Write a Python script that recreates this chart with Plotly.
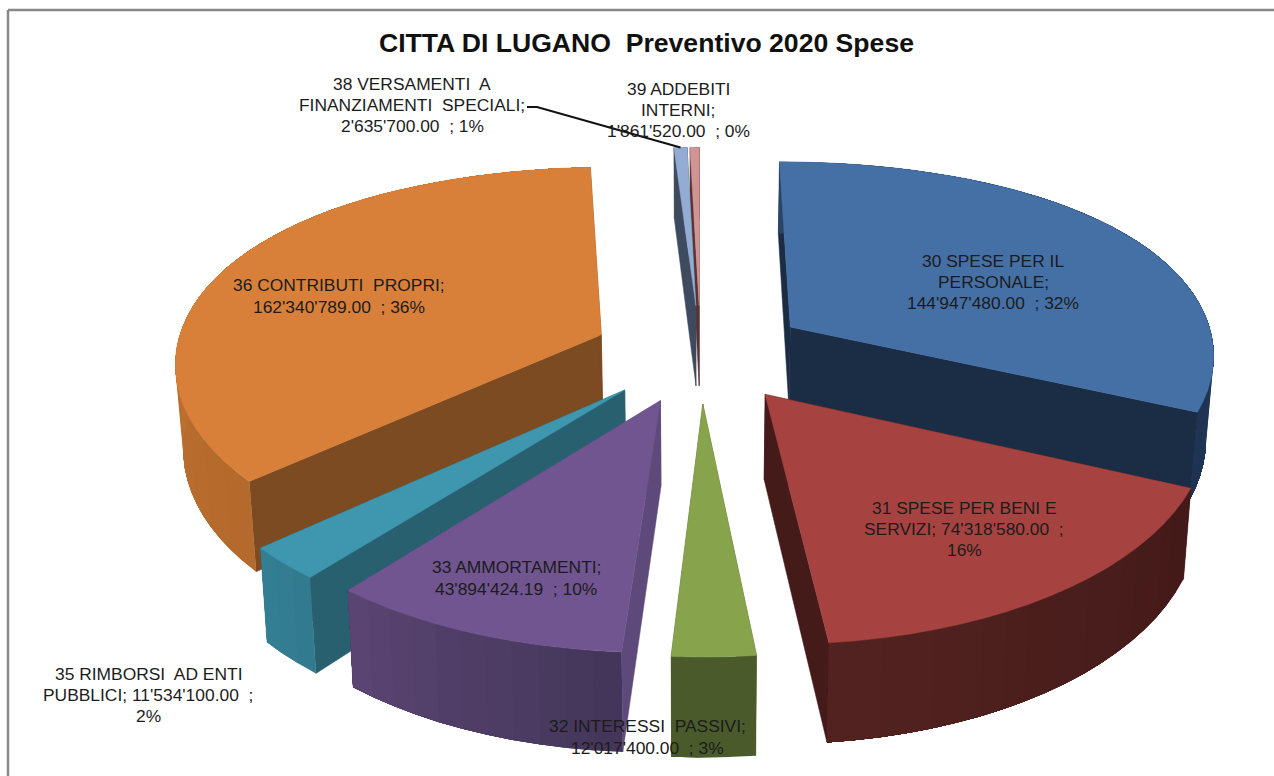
import math
import plotly.graph_objects as go

categories = ["30 SPESE PER IL PERSONALE", "31 SPESE PER BENI E SERVIZI", "32 INTERESSI  PASSIVI",
              "33 AMMORTAMENTI", "35 RIMBORSI  AD ENTI PUBBLICI", "36 CONTRIBUTI  PROPRI",
              "38 VERSAMENTI  A FINANZIAMENTI  SPECIALI", "39 ADDEBITI INTERNI"]
values = [144947480.00, 74318580.00, 12017400.00, 43894424.19, 11534100.00, 162340789.00, 2635700.00, 1861520.00]
label_texts = [
    "30 SPESE PER IL<br>PERSONALE;<br>144'947'480.00  ; 32%",
    "31 SPESE PER BENI E<br>SERVIZI; 74'318'580.00  ;<br>16%",
    "32 INTERESSI  PASSIVI;<br>12'017'400.00  ; 3%",
    "33 AMMORTAMENTI;<br>43'894'424.19  ; 10%",
    "35 RIMBORSI  AD ENTI<br>PUBBLICI; 11'534'100.00  ;<br>2%",
    "36 CONTRIBUTI  PROPRI;<br>162'340'789.00  ; 36%",
    "38 VERSAMENTI  A<br>FINANZIAMENTI  SPECIALI;<br>2'635'700.00  ; 1%",
    "39 ADDEBITI<br>INTERNI;<br>1'861'520.00  ; 0%",
]
title_text = "CITTA DI LUGANO  Preventivo 2020 Spese"

# styles
top_colors = ["#4570A6", "#A64340", "#87A44C", "#705590", "#3F96AF", "#D8803A", "#94ACD4", "#D09492"]
cut_colors = ["#1B2D45", "#451B19", "#4A5A2A", "#5E4A7A", "#286070", "#7C4B22", "#3E4A60", "#5A3230"]
rim_a = ["#2A4466", "#431A18", "#4A5A2A", "#44365A", "#327A8E", "#B46A2C", "#3E4A60", "#5A3230"]
rim_b = ["#1F3452", "#522220", "#4A5A2A", "#5A4472", "#347E94", "#CE7A36", "#3E4A60", "#5A3230"]
label_pos = [(993, 282), (964, 529), (647, 737), (516, 578), (148, 695), (339, 296), (412, 105), (678, 110)]

CX, CY, R, BY, CURVE, KP, EXPL_X, EXPL_Y, DEPTH, SHRINK, LIFT = (
    700.5, 353.0, 425.0, 205.5, 32.0, 0.14, 0.255, 0.24, 83.0, 0.985, 5.0)
LINE_H = 21.3


def project(X, Y, z=0.0, lift=0.0):
    s = 1.0 / (1.0 + KP * Y)
    x = CX + R * X * s
    y = CY - (BY * Y - CURVE * Y * Y) - lift + z * DEPTH * s
    if z:
        x = CX + (x - CX) * SHRINK
    return x, y


def rim(p, z=0.0):
    return project(p[0], p[1], z, LIFT * math.sin(p[2]) ** 2)


def lerp_hex(a, b, t):
    ca = [int(a[i:i + 2], 16) for i in (1, 3, 5)]
    cb = [int(b[i:i + 2], 16) for i in (1, 3, 5)]
    return "#%02x%02x%02x" % tuple(round(p + (q - p) * t) for p, q in zip(ca, cb))


def poly(pts, color, lw=0.5):
    xs = [p[0] for p in pts] + [pts[0][0]]
    ys = [p[1] for p in pts] + [pts[0][1]]
    return go.Scatter(x=xs, y=ys, mode="lines", fill="toself", fillcolor=color,
                      line=dict(color=color, width=lw), hoverinfo="skip", showlegend=False)


total = sum(values)
wedges = []
acc = 0.0
for i, v in enumerate(values):
    a0 = acc / total * 2 * math.pi
    acc += v
    a1 = acc / total * 2 * math.pi
    wedges.append((i, a0, a1, (a0 + a1) / 2))

fig = go.Figure()
rim_points = {}
for i, a0, a1, mid in sorted(wedges, key=lambda w: -math.cos(w[3])):
    ox, oy = EXPL_X * math.sin(mid), EXPL_Y * math.cos(mid)
    n = max(2, int((a1 - a0) / math.radians(3)))
    angs = [a0 + (a1 - a0) * k / n for k in range(n + 1)]
    ring = [(ox + math.sin(a), oy + math.cos(a), a) for a in angs]
    rim_points[i] = rim(ring[n // 2])
    apex_t, apex_b = project(ox, oy), project(ox, oy, 1)
    for p in (ring[0], ring[-1]):
        fig.add_trace(poly([apex_t, rim(p), rim(p, 1), apex_b], cut_colors[i]))
    # rim: overlapping bands painted in order, so no seams show between them
    for k in range(n):
        col = lerp_hex(rim_a[i], rim_b[i], k / max(1, n - 1))
        band = ring[k:]
        fig.add_trace(poly([rim(p) for p in band] + [rim(p, 1) for p in reversed(band)], col, 0))
    fig.add_trace(poly([apex_t] + [rim(p) for p in ring], top_colors[i]))

# leader line of the "38" label
lx, ly = rim_points[6]
fig.add_trace(go.Scatter(x=[527, 537, lx], y=[107, 107, ly], mode="lines",
                         line=dict(color="#111111", width=2), hoverinfo="skip", showlegend=False))

for txt, (x, y) in zip(label_texts, label_pos):
    rows = txt.split("<br>")
    for r, row in enumerate(rows):
        fig.add_annotation(x=x, y=y + (r - (len(rows) - 1) / 2) * LINE_H, text=row, showarrow=False,
                           xanchor="center", yanchor="middle", align="center",
                           font=dict(family="Liberation Sans", size=17.4, color="#1c1c1c"))
fig.add_annotation(x=646, y=43, text="<b>" + title_text + "</b>", showarrow=False, xanchor="center",
                   yanchor="middle", font=dict(family="Liberation Sans", size=26.6, color="#111111"))

for x0, y0, x1, y1 in [(8, 10, 8, 776), (8, 10, 1274, 10)]:
    fig.add_shape(type="line", x0=x0, y0=y0, x1=x1, y1=y1, line=dict(color="#888888", width=2.5), layer="above")

fig.update_layout(width=1274, height=776, margin=dict(l=0, r=0, t=0, b=0), paper_bgcolor="white",
                  plot_bgcolor="white",
                  xaxis=dict(range=[0, 1274], visible=False, fixedrange=True),
                  yaxis=dict(range=[776, 0], visible=False, fixedrange=True))
fig.write_html("out.html", config={"displayModeBar": False},
               post_script="document.body.style.margin='0';document.body.style.overflow='hidden';")
